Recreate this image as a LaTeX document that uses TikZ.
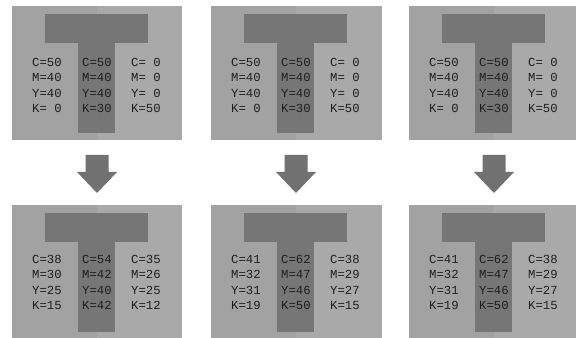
\documentclass[tikz,border=0pt]{standalone}
\usepackage{fontspec}
\setmonofont{Liberation Mono}
\usepackage{xcolor}
\usepackage{tikz}
\definecolor{panelbg}{HTML}{A2A2A2}
\definecolor{panelbgr}{HTML}{A9A9A9}
\definecolor{tshape}{HTML}{767676}
\definecolor{arrowgray}{HTML}{717171}
\definecolor{inkgray}{HTML}{1F1F1F}
\tikzset{
  vals/.style={anchor=north west, inner sep=0pt, align=left,
    font=\ttfamily\fontsize{10.5}{13.2}\selectfont, text=inkgray},
}

\begin{document}
\begin{tikzpicture}[x=0.03cm,y=-0.03cm]
    \useasboundingbox (0,0) rectangle (577,338);
    % gray panels with the T
    \foreach \px/\pw in {12/170, 211/171, 409/167} {
      \foreach \py in {6, 205} {
        \begin{scope}[shift={(\px,\py)}]
          \fill[panelbg] (0,0) rectangle (85,134);
          \fill[panelbgr] (85,0) rectangle (\pw,134);
          \fill[tshape] (33,8) rectangle (136,37);
          \fill[tshape] (66,37) rectangle (103,127);
        \end{scope}
      }
    }
    % arrows
    \foreach \ax in {97, 296, 494} {
      \fill[arrowgray] (\ax-11.5,155) -- (\ax+11.5,155) -- (\ax+11.5,172)
        -- (\ax+20,172) -- (\ax,193) -- (\ax-20,172) -- (\ax-11.5,172) -- cycle;
    }
    % top values
    \begin{scope}[shift={(12,6)}]
      \node[vals] (t1l) at (20,52) {C=50\\M=40\\Y=40\\K=~0};
      \node[vals] (t1m) at (70,52) {C=50\\M=40\\Y=40\\K=30};
      \node[vals] (t1r) at (119,52) {C=~0\\M=~0\\Y=~0\\K=50};
    \end{scope}
    \begin{scope}[shift={(211,6)}]
      \node[vals] (t2l) at (20,52) {C=50\\M=40\\Y=40\\K=~0};
      \node[vals] (t2m) at (70,52) {C=50\\M=40\\Y=40\\K=30};
      \node[vals] (t2r) at (119,52) {C=~0\\M=~0\\Y=~0\\K=50};
    \end{scope}
    \begin{scope}[shift={(409,6)}]
      \node[vals] (t3l) at (20,52) {C=50\\M=40\\Y=40\\K=~0};
      \node[vals] (t3m) at (70,52) {C=50\\M=40\\Y=40\\K=30};
      \node[vals] (t3r) at (119,52) {C=~0\\M=~0\\Y=~0\\K=50};
    \end{scope}
    % bottom values
    \begin{scope}[shift={(12,205)}]
      \node[vals] (b1l) at (20,50) {C=38\\M=30\\Y=25\\K=15};
      \node[vals] (b1m) at (70,50) {C=54\\M=42\\Y=40\\K=42};
      \node[vals] (b1r) at (119,50) {C=35\\M=26\\Y=25\\K=12};
    \end{scope}
    \begin{scope}[shift={(211,205)}]
      \node[vals] (b2l) at (20,50) {C=41\\M=32\\Y=31\\K=19};
      \node[vals] (b2m) at (70,50) {C=62\\M=47\\Y=46\\K=50};
      \node[vals] (b2r) at (119,50) {C=38\\M=29\\Y=27\\K=15};
    \end{scope}
    \begin{scope}[shift={(409,205)}]
      \node[vals] (b3l) at (20,50) {C=41\\M=32\\Y=31\\K=19};
      \node[vals] (b3m) at (70,50) {C=62\\M=47\\Y=46\\K=50};
      \node[vals] (b3r) at (119,50) {C=38\\M=29\\Y=27\\K=15};
    \end{scope}
  \end{tikzpicture}
\end{document}
